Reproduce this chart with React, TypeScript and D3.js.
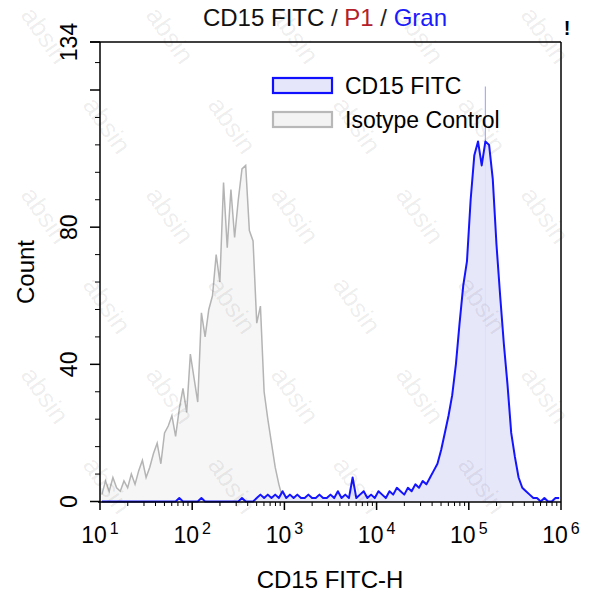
import React from "react";
import * as d3 from "d3";

// ---- data (log-binned histogram, bin width 0.04 decade, first bin starts at 10^1) ----
const binStart = 1.0;
const binWidth = 0.04;

const isotypeCounts = [
  2, 6, 3, 7, 4, 3, 6, 4, 8, 5,
  9, 12, 7, 10, 14, 17, 11, 20, 22, 25,
  19, 27, 33, 26, 43, 36, 29, 55, 48, 56,
  60, 72, 64, 93, 74, 91, 77, 88, 97, 98,
  79, 76, 52, 57, 32, 24, 17, 10, 5, 1,
];

const cd15Counts = [
  0, 0, 0, 0, 0, 0, 0, 0, 0, 0,
  0, 0, 0, 0, 0, 0, 0, 0, 0, 0,
  0, 1, 0, 0, 0, 0, 0, 1, 0, 0,
  0, 0, 0, 0, 0, 0, 0, 0, 1, 0,
  0, 0, 1, 2, 1, 2, 1, 2, 1, 3,
  1, 2, 1, 2, 1, 1, 2, 1, 1, 2,
  1, 1, 2, 1, 3, 1, 2, 1, 7, 1,
  2, 3, 1, 2, 1, 3, 2, 1, 3, 2,
  4, 3, 2, 4, 3, 5, 4, 6, 5, 7,
  9, 11, 15, 20, 25, 31, 40, 52, 63, 70,
  88, 101, 105, 98, 105, 104, 94, 75, 60, 46,
  34, 20, 13, 7, 4, 3, 2, 1, 1, 0,
  1, 0, 0, 1, 1,
];

// faint single-channel spike visible above the CD15 peak
const cd15Spike = { log: 5.18, count: 121 };

const titleParts = [
  { text: "CD15 FITC", color: "#111111" },
  { text: " / ", color: "#222222" },
  { text: "P1", color: "#b3202a" },
  { text: " / ", color: "#222222" },
  { text: "Gran", color: "#1a1aff" },
];

const legendItems = [
  { label: "CD15 FITC", stroke: "#1010ff", fill: "#e6e6fb" },
  { label: "Isotype Control", stroke: "#b8b8b8", fill: "#f3f3f3" },
];

const xDecades = [1, 2, 3, 4, 5, 6];
const yMajorTicks = [0, 40, 80, 120, 134];
const yTickLabels = [0, 40, 80, 134];

const FONT = "'Liberation Sans', Arial, sans-serif";
const FS = 24;

export default function App() {
  const W = 593;
  const H = 600;
  const left = 100;
  const right = 561;
  const top = 42;
  const bottom = 502;

  const x = d3.scaleLog().domain([10, 1e6]).range([left, right]);
  const y = d3.scaleLinear().domain([0, 134]).range([501.5, top]);

  const toPoints = (arr: number[]) =>
    arr.map((c, i) => ({ v: Math.pow(10, binStart + binWidth * (i + 0.5)), c }));

  const area = d3
    .area<{ v: number; c: number }>()
    .x((d) => x(d.v))
    .y0(y(0))
    .y1((d) => y(d.c));
  const line = d3
    .line<{ v: number; c: number }>()
    .x((d) => x(d.v))
    .y((d) => y(d.c));

  const isoPts = toPoints(isotypeCounts);
  const cdPts = toPoints(cd15Counts);

  const minorX: number[] = [];
  for (let d = 1; d < 6; d++) for (let k = 2; k <= 9; k++) minorX.push(k * Math.pow(10, d));
  const minorY = d3.range(0, 134, 8).filter((v) => !yMajorTicks.includes(v));

  // watermark grid (kept fully inside the canvas)
  const marks: { x: number; y: number }[] = [];
  for (let r = 0; r < 7; r++) {
    for (let c = 0; c < 6; c++) {
      const mx = c * 125 + (r % 2) * 62 + 20;
      const my = r * 90 + 15;
      if (mx > 12 && mx + 50 < W - 5 && my > 5 && my + 75 < H - 5) marks.push({ x: mx, y: my });
    }
  }

  return (
    <svg width={W} height={H} style={{ display: "block", position: "absolute", left: 0, top: 0, background: "#fff" }}>
      <rect x={0} y={0} width={W} height={H} fill="#fff" />

      {/* title */}
      <text x={325} y={26} textAnchor="middle" fontFamily={FONT} fontSize={FS} fill="#111">
        {titleParts.map((p, i) => (
          <tspan key={i} fill={p.color}>
            {p.text}
          </tspan>
        ))}
      </text>
      <text x={567} y={35} textAnchor="middle" fontFamily={FONT} fontSize={20} fontWeight="bold" fill="#000">
        !
      </text>

      {/* histograms */}
      <path d={area(isoPts) || ""} fill="#f6f6f6" />
      <path d={line(isoPts) || ""} fill="none" stroke="#b4b4b4" strokeWidth={1.5} />
      <line
        x1={x(Math.pow(10, cd15Spike.log))}
        x2={x(Math.pow(10, cd15Spike.log))}
        y1={y(0)}
        y2={y(cd15Spike.count)}
        stroke="#a8adf5"
        strokeWidth={1.2}
      />
      <path d={area(cdPts) || ""} fill="#e4e4fa" fillOpacity={0.9} />
      <path d={line(cdPts) || ""} fill="none" stroke="#1414ff" strokeWidth={2} strokeLinejoin="round" />

      {/* frame */}
      <line x1={90} x2={right} y1={top} y2={top} stroke="#000" strokeWidth={1.5} />
      <line x1={right} x2={right} y1={top} y2={bottom} stroke="#000" strokeWidth={1.5} />
      <line x1={left} x2={left} y1={top} y2={bottom} stroke="#000" strokeWidth={1.5} />
      <line x1={left - 2} x2={right} y1={bottom} y2={bottom} stroke="#000" strokeWidth={1.5} />

      {/* y ticks */}
      {yMajorTicks.map((t) => (
        <line key={"ym" + t} x1={left - 10} x2={left} y1={y(t)} y2={y(t)} stroke="#000" strokeWidth={1.5} />
      ))}
      {minorY.map((t) => (
        <line key={"yn" + t} x1={left - 5} x2={left} y1={y(t)} y2={y(t)} stroke="#000" strokeWidth={1} />
      ))}
      {yTickLabels.map((t) => (
        <text
          key={"yl" + t}
          transform={`translate(77,${y(t)}) rotate(-90)`}
          textAnchor="middle"
          fontFamily={FONT}
          fontSize={FS - 1}
          fill="#000"
        >
          {t}
        </text>
      ))}
      <text transform={`translate(34,272) rotate(-90)`} textAnchor="middle" fontFamily={FONT} fontSize={FS} fill="#000">
        Count
      </text>

      {/* x ticks */}
      {xDecades.map((d) => (
        <line
          key={"xm" + d}
          x1={x(Math.pow(10, d))}
          x2={x(Math.pow(10, d))}
          y1={bottom}
          y2={bottom + 8}
          stroke="#000"
          strokeWidth={1.5}
        />
      ))}
      {minorX.map((v, i) => (
        <line key={"xn" + i} x1={x(v)} x2={x(v)} y1={bottom} y2={bottom + 4} stroke="#000" strokeWidth={1} />
      ))}
      {xDecades.map((d) => (
        <text key={"xl" + d} x={x(Math.pow(10, d))} y={543} textAnchor="middle" fontFamily={FONT} fontSize={FS - 1} fill="#000">
          <tspan>10</tspan>
          <tspan dy={-9} dx={3} fontSize={16}>
            {d}
          </tspan>
        </text>
      ))}
      <text x={330} y={588} textAnchor="middle" fontFamily={FONT} fontSize={FS} fill="#000">
        CD15 FITC-H
      </text>

      {/* legend */}
      {legendItems.map((it, i) => (
        <g key={it.label} transform={`translate(273,${78 + i * 34})`}>
          <rect x={0} y={0} width={59} height={15} fill={it.fill} stroke={it.stroke} strokeWidth={2.2} />
          <text x={72} y={16} fontFamily={FONT} fontSize={FS - 1} fill="#000">
            {it.label}
          </text>
        </g>
      ))}

      {/* watermark */}
      <g pointerEvents="none">
        {marks.map((m, i) => (
          <text
            key={"wm" + i}
            transform={`translate(${m.x},${m.y}) rotate(55)`}
            fontFamily={FONT}
            fontSize={26}
            fill="#000"
            fillOpacity={0.08}
          >
            absin
          </text>
        ))}
      </g>
    </svg>
  );
}
